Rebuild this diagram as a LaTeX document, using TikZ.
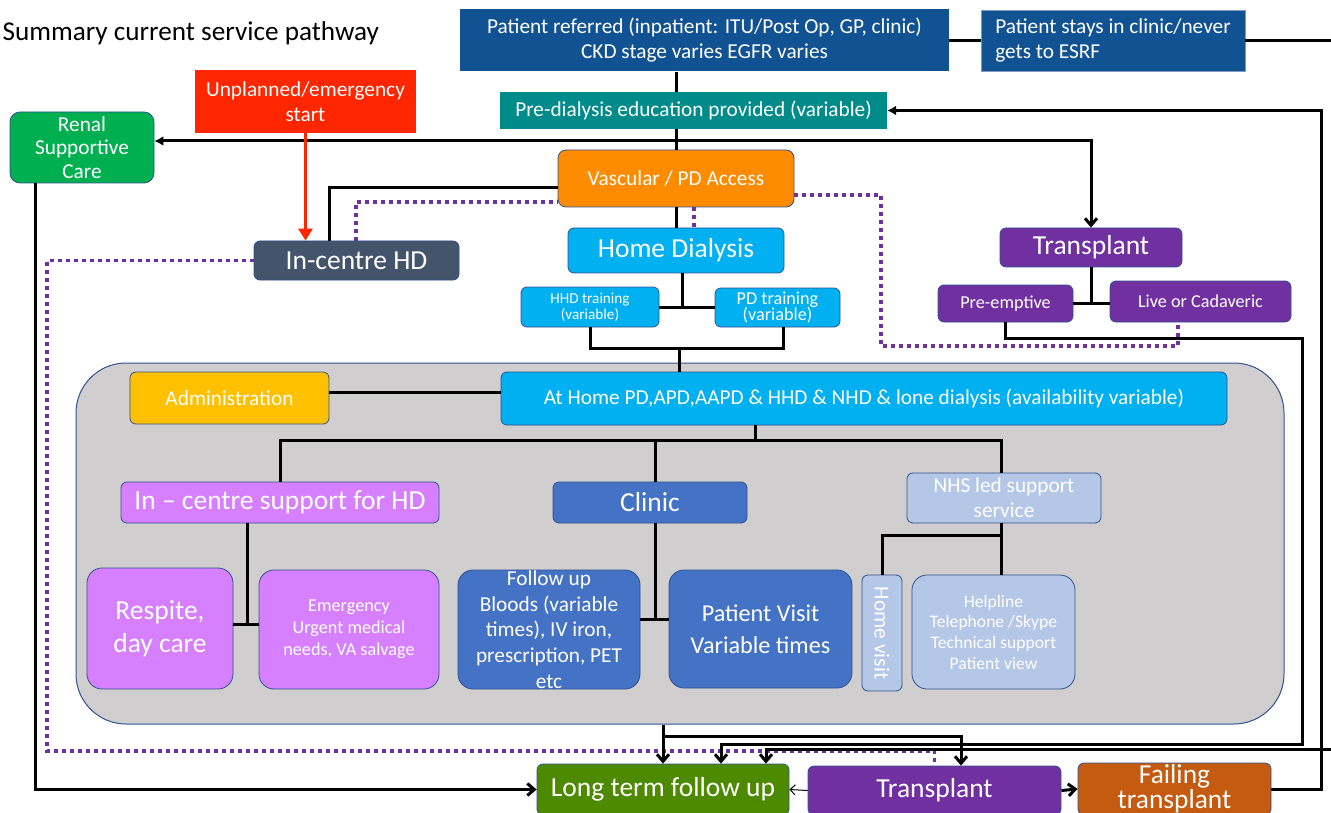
\documentclass[tikz,border=0pt]{standalone}
\usepackage{fontspec}
\setmainfont{Carlito}
\usetikzlibrary{arrows.meta}
\definecolor{patblue}{RGB}{17,82,147}
\definecolor{predteal}{RGB}{0,139,139}
\definecolor{renalgreen}{RGB}{0,176,80}
\definecolor{emred}{RGB}{255,38,0}
\definecolor{slate}{RGB}{68,84,106}
\definecolor{vascorange}{RGB}{255,140,0}
\definecolor{homeblue}{RGB}{0,176,240}
\definecolor{amber}{RGB}{255,192,0}
\definecolor{violet}{RGB}{214,128,255}
\definecolor{clinicblue}{RGB}{68,114,196}
\definecolor{nhsblue}{RGB}{180,199,231}
\definecolor{tpurple}{RGB}{112,48,160}
\definecolor{ltgreen}{RGB}{78,138,0}
\definecolor{failorange}{RGB}{197,90,17}
\definecolor{boxgrey}{RGB}{208,206,206}
\definecolor{bordblue}{RGB}{47,82,143}
\tikzset{box/.style = {shape = rectangle, text = white, align = center, inner sep = 0pt}}
\tikzset{rbox/.style = {box, rounded corners = 6pt, draw = bordblue, line width = 0.8pt}}
\tikzset{wh/.style 2 args = {minimum width = #1pt, minimum height = #2pt}}
\tikzset{small/.style = {font = \fontsize{18.2}{22}\selectfont}}
\tikzset{med/.style = {font = \fontsize{21.3}{25}\selectfont}}
\tikzset{big/.style = {font = \fontsize{27.5}{33}\selectfont}}
\tikzset{edge/.style = {-, line width = 3pt}}
\tikzset{arr/.style = {edge, -{Straight Barb[length = 7pt, width = 12pt]}}}
\tikzset{purpledots/.style = {draw = tpurple, line width = 3.5pt, dash pattern = on 4pt off 4pt}}

\begin{document}
\begin{tikzpicture}[x = 1pt, y = -1pt]
	\useasboundingbox (0, 0) rectangle (1331, 813);
	\node[box, rounded corners = 50pt, draw = bordblue, line width = 1pt, fill = boxgrey, wh = {1208}{361}] (grey) at (680, 543.5) {};

	\node[anchor = west, font = \fontsize{27.2}{30}\selectfont] (title) at (-1, 33) {Summary current service pathway};
	\node[box, fill = patblue, wh = {489}{62}, med] (ref) at (704.5, 40.5) {Patient referred (inpatient: ITU/Post Op, GP, clinic)\\CKD stage varies EGFR varies};
	\node[box, fill = patblue, draw = bordblue!60, wh = {264}{61}, align = left, med] (stay) at (1113, 40.5) {Patient stays in clinic/never\\gets to ESRF};
	\node[box, fill = predteal, wh = {387}{37}, med] (pre) at (693.5, 110.5) {Pre-dialysis education provided (variable)};
	\node[box, fill = emred, wh = {221}{63}, med] (emg) at (305.5, 101.5) {Unplanned/emergency\\start};
	\node[rbox, rounded corners = 10pt, fill = renalgreen, wh = {144}{71}, font = \fontsize{21.3}{23.5}\selectfont] (rsc) at (82, 147.5) {Renal\\Supportive\\Care};
	\node[rbox, rounded corners = 8pt, fill = vascorange, wh = {236}{57}, med] (acc) at (676, 178.5) {Vascular / PD Access};
	\node[rbox, fill = slate, wh = {205}{39}, big] (ichd) at (356.5, 260.5) {In-centre HD};
	\node[rbox, fill = homeblue, wh = {216}{45}, big] (home) at (676, 250.5) {Home Dialysis};
	\node[rbox, fill = homeblue, wh = {138}{40}, font = \fontsize{15.2}{16}\selectfont] (hhd) at (590, 307) {HHD training\\(variable)};
	\node[rbox, fill = homeblue, wh = {125}{39}, font = \fontsize{18.2}{17}\selectfont] (pdt) at (777.5, 307.5) {PD training\\(variable)};
	\node[rbox, fill = tpurple, wh = {182}{39}, big] (tx) at (1091, 247.5) {Transplant};
	\node[rbox, fill = tpurple, wh = {135}{37}, small] (pree) at (1005.5, 303.5) {Pre-emptive};
	\node[rbox, fill = tpurple, wh = {181}{41}, small] (live) at (1200.5, 301.5) {Live or Cadaveric};

	\node[rbox, fill = amber, wh = {199}{52}, med] (adm) at (229.5, 398) {Administration};
	\node[rbox, fill = homeblue, wh = {726}{53}, med] (ah) at (864, 398.5) {At Home PD,APD,AAPD \& HHD \& NHD \& lone dialysis (availability variable)};
	\node[rbox, fill = violet, wh = {318}{41}, big] (ics) at (280, 502.5) {In -- centre support for HD};
	\node[rbox, rounded corners = 15pt, fill = violet, wh = {146}{121}, big] (resp) at (160, 628.5) {Respite,\\day care};
	\node[rbox, rounded corners = 15pt, fill = violet, wh = {180}{119}, small] (urg) at (349, 629.5) {Emergency\\Urgent medical\\needs, VA salvage};
	\node[rbox, fill = clinicblue, wh = {194}{41}, big] (cl) at (650, 502.5) {Clinic};
	\node[rbox, rounded corners = 15pt, fill = clinicblue, wh = {182}{119}, font = \fontsize{21.3}{25.7}\selectfont] (fu) at (549, 629.5) {Follow up\\Bloods (variable\\times), IV iron,\\prescription, PET\\etc};
	\node[rbox, rounded corners = 15pt, fill = clinicblue, wh = {183}{118}, font = \fontsize{24.2}{32}\selectfont] (pv) at (760.5, 629) {Patient Visit\\Variable times};
	\node[rbox, fill = nhsblue, wh = {194}{50}, med] (nhs) at (1004, 498) {NHS led support\\service};
	\node[rbox, fill = nhsblue, wh = {116}{40}, rotate = -90, font = \fontsize{21.5}{22}\selectfont] (hv) at (882, 633) {Home visit};
	\node[rbox, rounded corners = 15pt, fill = nhsblue, wh = {163}{114}, font = \fontsize{17.6}{20.7}\selectfont] (help) at (993.5, 632) {Helpline\\Telephone /Skype\\Technical support\\Patient view};

	\node[rbox, fill = ltgreen, wh = {252}{51}, big] (ltf) at (663, 789.5) {Long term follow up};
	\node[rbox, fill = tpurple, wh = {253}{49}, big] (txb) at (934.5, 790.5) {Transplant};
	\node[rbox, fill = failorange, wh = {193}{52}, font = \fontsize{27.4}{23}\selectfont] (fail) at (1174.5, 789) {Failing\\transplant};

	\coordinate (j1) at (676, 141);
	\coordinate (j2) at (679, 348);
	\coordinate (j3) at (755, 440);
	\coordinate (j4) at (247, 624);
	\coordinate (j5) at (655, 619);
	\coordinate (j6) at (1001, 535);
	\coordinate (j7) at (663, 736);
	\coordinate (j8) at (1302, 338);
	\coordinate (j9) at (1302, 744);
	\coordinate (j10) at (1345, 749);
	\coordinate (j11) at (1321, 110.5);
	\coordinate (d1) at (47, 751);
	\coordinate (d2) at (881, 346);

	\draw[purpledots] ([xshift = -0.5pt]ichd.north) |- ([yshift = -23.5pt]acc.west);
	\draw[purpledots] (ichd.west) -| (d1) -| (txb.north);
	\draw[purpledots] ([yshift = -16.5pt]acc.east) -| (d2) -| ([xshift = -22.5pt]live.south);
	\draw[purpledots] ([xshift = 18pt]acc.south) -- ([xshift = 18pt]home.north);

	\draw[edge] (ref.south -| acc) -- (pre.north -| acc);
	\draw[edge] (ref.east) -- (stay.west);
	\draw[arr] (stay.east) -- (1345, 40.5) -- (j10) -| ([xshift = 103pt]ltf.north);
	\draw[edge] (pre.south -| acc) -- (acc.north);
	\draw[edge, -{Latex[length = 9pt, width = 10pt]}] (j1) -- (rsc.east |- j1);
	\draw[arr] (j1) -| (tx.north);
	\draw[edge] ([xshift = -27.5pt]ichd.north) |- ([yshift = -9.5pt]acc.west);
	\draw[edge] (acc.south) -- (home.north);
	\draw[edge] ([xshift = 6pt]home.south) -- ([xshift = 6pt]home.south |- hhd.east);
	\draw[edge] (hhd.east) -- (pdt.west |- hhd.east);
	\draw[edge] (hhd.south) |- (j2) -| ([xshift = 5.5pt]pdt.south);
	\draw[edge] (j2) -- (ah.north -| j2);
	\draw[edge] (tx.south) -- (tx.south |- pree.east);
	\draw[edge] (pree.east) -- (live.west |- pree.east);
	\draw[arr] (pree.south) |- (j8) -- (j9) -| ([xshift = 58pt]ltf.north);
	\draw[edge, -{Latex[length = 9pt, width = 10pt]}] (fail.east) -| (j11) -- (pre.east);

	\draw[edge] ([yshift = 6pt]adm.east) -- ([yshift = 6pt]adm.east -| ah.west);
	\draw[edge] ([xshift = -109pt]ah.south) -- (j3);
	\draw[edge] (ics.north) |- (j3) -| ([xshift = -3pt]nhs.north);
	\draw[edge] (j3 -| j5) -- (cl.north -| j5);
	\draw[edge] ([xshift = -33pt]ics.south) -- (j4);
	\draw[edge] (resp.east |- j4) -- (urg.west |- j4);
	\draw[edge] (cl.south -| j5) -- (j5);
	\draw[edge] (fu.east |- j5) -- (pv.west |- j5);
	\draw[edge] ([xshift = -3pt]nhs.south) -- ([xshift = -3pt]nhs.south |- help.north);
	\draw[edge] (j6) -| (hv.west);

	\draw[arr] ([xshift = -17pt]grey.south) -- (ltf.north);
	\draw[arr] (j7) -| ([xshift = 26.5pt]txb.north);
	\draw[arr] ([xshift = -47pt]rsc.south) |- (ltf.west);
	\draw[-{Straight Barb[length = 5pt, width = 10pt]}, line width = 1pt] (txb.west) -- (ltf.east);
	\draw[arr] (txb.east) -- (fail.west);

	\draw[emred, line width = 3.5pt, -{Triangle[length = 12pt, width = 14pt]}] (emg.south) -- (emg.south |- ichd.north);
\end{tikzpicture}
\end{document}
